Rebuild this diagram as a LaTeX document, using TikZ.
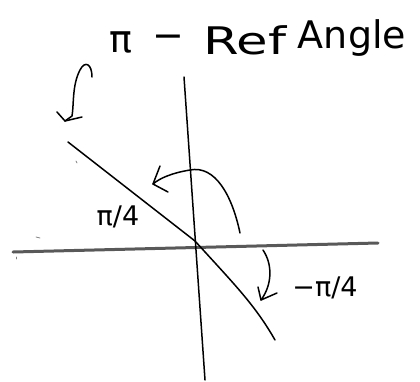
\documentclass[tikz,border=0pt]{standalone}
\usepackage{fontspec}
\setmainfont{DejaVu Sans}
\begin{document}
\begin{tikzpicture}[x=1pt,y=-1pt,line cap=round,line join=round,
  pen/.style={draw=black,line width=1.5pt},
  pencil/.style={draw=black!65,line width=3pt},
  speck/.style={draw=black!50,line width=0.8pt},
  hand/.style={inner sep=0pt,font=\fontsize{38}{40}\selectfont},
  lbl/.style={inner sep=0pt,font=\fontsize{27}{29}\selectfont}]
\useasboundingbox (0,0) rectangle (420,381);
% axes
\coordinate (vtop) at (184,77);
\coordinate (vbot) at (205,380);
\coordinate (hleft) at (13,252);
\coordinate (hright) at (378,243);
\coordinate (o) at (195,241);
\coordinate (dtop) at (68,142);
\coordinate (dbot) at (275,340);
\draw[pencil] (hleft) -- (hright);
\draw[pen] (vtop) -- (vbot);
\draw[pen] (dtop) -- (o) .. controls (235,285) and (255,305) .. (dbot);
% specks
\draw[speck] (76,161) -- (77,163);
\draw[speck] (36,237) -- (40,238);
\draw[speck] (16,257) -- (16,259);
% curved arrow pi - ref
\coordinate (a1s) at (240,233);
\coordinate (a1t) at (153,184);
\draw[pen] (a1s) .. controls (232,195) and (215,165) .. (190,170)
  .. controls (172,173) and (160,178) .. (a1t);
\draw[pen] (160,166) -- (a1t) -- (168,192);
% down arrow -pi/4
\coordinate (a2s) at (263,250);
\coordinate (a2t) at (261,300);
\draw[pen] (a2s) .. controls (273,265) and (272,285) .. (a2t);
\draw[pen] (258,287) -- (a2t) -- (277,293);
% hook arrow near title
\coordinate (a3s) at (92,77);
\coordinate (a3t) at (65,121);
\draw[pen] (a3s) .. controls (92,64) and (85,60) .. (80,70)
  .. controls (72,85) and (74,105) .. (72,116) -- (a3t);
\draw[pen] (57,112) -- (a3t) -- (82,117);
% title
\node[hand] (tpi) at (121,42) {π};
\node[hand] (tminus) at (168,42) {−};
\node[hand] (tref) at (245,40) {\scalebox{1.35}[1]{Ref}};
\node[hand] (tangle) at (352,38) {Angle};
% labels
\node[lbl] (lq) at (118,217) {π/4};
\node[lbl] (lnq) at (325,288) {−π/4};
\end{tikzpicture}
\end{document}
